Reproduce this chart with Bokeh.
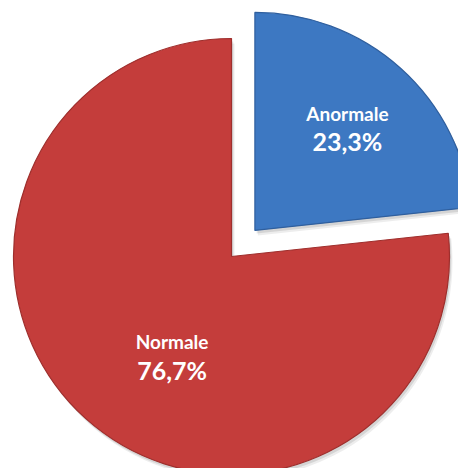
import numpy as np
from bokeh.plotting import figure
from bokeh.models import Range1d
from bokeh.core.properties import value
from bokeh.embed import file_html
from bokeh.resources import INLINE

categories = ["Anormale", "Normale"]
percents = [23.3, 76.7]
pct_labels = ["23,3%", "76,7%"]
colors = ["#3D78C2", "#C43D3B"]
edge_colors = ["#2F5F9E", "#9E2F2D"]
explode = [35, 0]
label_frac = [0.635, 0.53]
label_shift_deg = [0, -11]

W, H = 458, 468
cx, cy, R = 231, 212, 218

p = figure(width=W, height=H, output_backend="svg", toolbar_location=None,
           x_range=Range1d(0, W), y_range=Range1d(0, H), min_border=0)
p.axis.visible = False
p.grid.visible = False
p.outline_line_color = None
p.background_fill_color = "white"
p.border_fill_color = "white"

frac = np.array(percents) / sum(percents)
cum = np.concatenate([[0], np.cumsum(frac)])
# clockwise from 12 o'clock -> bokeh anticlock angles
start_cw = cum[:-1] * 2 * np.pi
end_cw = cum[1:] * 2 * np.pi
mid_cw = (start_cw + end_cw) / 2
start_ang = np.pi / 2 - end_cw
end_ang = np.pi / 2 - start_cw

xs = cx + np.array(explode) * np.sin(mid_cw)
ys = cy + np.array(explode) * np.cos(mid_cw)

# soft shadow
for k, a in [(5, 0.07), (3, 0.10)]:
    p.wedge(x=xs + k * 0.6, y=ys - k, radius=R, start_angle=start_ang, end_angle=end_ang,
            fill_color="#000000", fill_alpha=a, line_color=None)

p.wedge(x=xs, y=ys, radius=R, start_angle=start_ang, end_angle=end_ang,
        fill_color=colors, line_color=edge_colors, line_width=1.2)

lab_ang = mid_cw + np.radians(label_shift_deg)
lx = xs + np.array(label_frac) * R * np.sin(lab_ang)
ly = ys + np.array(label_frac) * R * np.cos(lab_ang)

p.text(x=lx, y=ly + 14, text=categories, text_color="white",
       text_font=value("Lato"), text_font_style="bold", text_font_size="19px",
       text_align="center", text_baseline="middle")
p.text(x=lx, y=ly - 14, text=pct_labels, text_color="white",
       text_font=value("Lato"), text_font_style="bold", text_font_size="25px",
       text_align="center", text_baseline="middle")

open("out.html", "w").write(file_html(p, INLINE))
